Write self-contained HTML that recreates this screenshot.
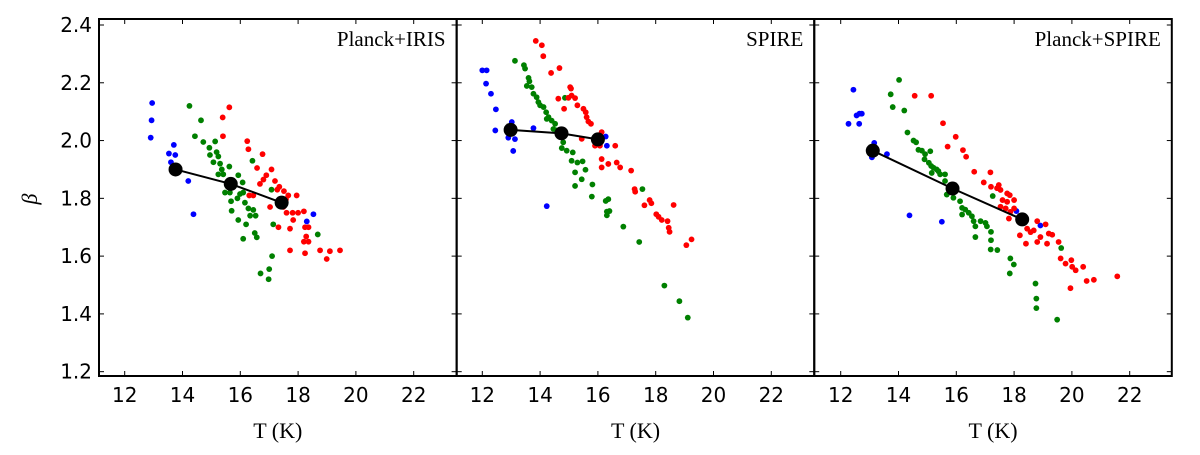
<!DOCTYPE html>
<html><head><meta charset="utf-8"><style>
html,body{margin:0;padding:0;background:#fff;width:1200px;height:455px;overflow:hidden}
svg text{font-family:"DejaVu Sans","Liberation Sans",sans-serif}
svg text.serif{font-family:"Liberation Serif","DejaVu Serif",serif}
</style></head><body>
<svg id="chart" width="1200" height="455" viewBox="0 0 1200 455" xmlns="http://www.w3.org/2000/svg"></svg>
<script>
const panelTitles=["Planck+IRIS","SPIRE","Planck+SPIRE"];
const xTicks=[12,14,16,18,20,22];
const yTicks=[1.2,1.4,1.6,1.8,2.0,2.2,2.4];
const yTickLabels=["1.2","1.4","1.6","1.8","2.0","2.2","2.4"];
const p1Blue=[[12.95,2.13],[12.93,2.07],[12.9,2.01],[13.7,1.985],[13.53,1.955],[13.75,1.95],[13.6,1.925],[14.2,1.86],[14.38,1.745],[18.3,1.72],[18.53,1.745]];
const p1Green=[[14.24,2.12],[14.64,2.07],[14.43,2.015],[14.72,1.995],[14.93,1.975],[15.13,1.997],[14.95,1.95],[15.18,1.96],[15.24,1.945],[15.07,1.925],[15.3,1.92],[15.36,1.9],[15.24,1.883],[15.41,1.883],[15.62,1.91],[15.93,1.88],[16.08,1.855],[15.76,1.84],[15.64,1.82],[15.47,1.82],[15.99,1.815],[16.1,1.82],[15.9,1.8],[15.68,1.79],[16.16,1.785],[16.28,1.765],[16.45,1.76],[15.7,1.757],[16.34,1.74],[16.53,1.74],[16.2,1.71],[15.93,1.725],[16.42,1.93],[17.08,1.83],[17.14,1.71],[16.5,1.68],[16.57,1.665],[16.1,1.66],[18.68,1.675],[17.1,1.6],[16.7,1.54],[17.0,1.555],[16.98,1.52]];
const p1Red=[[15.62,2.115],[15.39,2.08],[15.4,2.015],[16.24,1.998],[16.28,1.97],[16.77,1.953],[16.58,1.905],[17.08,1.9],[16.9,1.88],[16.8,1.865],[17.2,1.86],[16.68,1.85],[17.35,1.84],[17.28,1.83],[17.51,1.825],[17.66,1.81],[17.95,1.81],[16.45,1.81],[16.31,1.81],[17.03,1.77],[17.49,1.77],[17.6,1.75],[17.81,1.75],[18.0,1.75],[18.2,1.755],[17.83,1.725],[17.32,1.7],[17.72,1.695],[18.24,1.7],[18.36,1.7],[18.28,1.668],[18.2,1.65],[18.36,1.65],[17.72,1.62],[18.24,1.61],[18.76,1.62],[19.1,1.617],[19.45,1.62],[18.99,1.59],[17.58,1.797],[17.43,1.78]];
const p1Mean=[[13.76,1.9],[15.67,1.85],[17.43,1.785]];
const p2Blue=[[12.0,2.243],[12.15,2.243],[12.13,2.197],[12.3,2.162],[12.47,2.108],[12.45,2.035],[12.9,2.01],[13.13,2.005],[13.07,1.964],[13.02,2.064],[13.77,2.043],[14.23,1.773],[16.27,2.014],[16.31,1.982]];
const p2Green=[[13.13,2.276],[13.44,2.261],[13.48,2.249],[13.6,2.217],[13.63,2.205],[13.54,2.189],[13.71,2.185],[13.77,2.162],[13.88,2.15],[13.94,2.133],[14.0,2.122],[14.12,2.116],[14.21,2.098],[14.29,2.081],[14.23,2.075],[14.4,2.069],[14.52,2.058],[14.46,2.04],[14.57,2.035],[14.86,2.148],[14.8,1.994],[14.75,1.974],[14.92,1.965],[15.13,1.959],[15.09,1.93],[15.29,1.924],[15.47,1.928],[15.21,1.89],[15.57,1.899],[15.44,1.866],[15.21,1.843],[15.81,1.848],[15.79,1.806],[16.27,1.791],[16.36,1.797],[16.31,1.754],[16.4,1.756],[16.31,1.741],[16.88,1.702],[17.54,1.832],[17.43,1.649],[18.3,1.498],[18.82,1.444],[19.11,1.387]];
const p2Red=[[13.57,2.429],[13.85,2.345],[14.06,2.33],[14.11,2.292],[14.67,2.251],[14.38,2.234],[15.04,2.185],[15.07,2.18],[14.63,2.145],[14.98,2.148],[15.09,2.156],[15.21,2.147],[14.83,2.11],[15.29,2.122],[15.5,2.11],[15.58,2.098],[15.61,2.081],[15.67,2.066],[15.76,2.058],[16.13,2.029],[15.9,1.982],[16.07,1.982],[15.44,2.006],[16.6,1.982],[16.13,1.936],[16.36,1.919],[16.13,1.907],[16.65,1.924],[16.77,1.907],[17.15,1.896],[17.27,1.832],[17.29,1.823],[17.61,1.776],[17.79,1.794],[17.85,1.783],[18.02,1.745],[18.1,1.736],[18.21,1.725],[18.41,1.721],[18.45,1.698],[18.48,1.684],[18.62,1.777],[19.06,1.638],[19.24,1.658]];
const p2Mean=[[12.98,2.037],[14.74,2.025],[16.0,2.004]];
const p3Blue=[[12.44,2.176],[12.27,2.058],[12.55,2.087],[12.65,2.093],[12.73,2.093],[12.64,2.058],[13.16,1.992],[13.08,1.942],[13.6,1.953],[14.38,1.741],[15.5,1.719],[18.91,1.706],[18.08,1.756]];
const p3Green=[[14.02,2.21],[13.73,2.16],[13.8,2.116],[14.2,2.104],[14.31,2.028],[14.52,2.0],[14.61,1.994],[14.69,1.968],[14.81,1.965],[14.92,1.953],[15.1,1.963],[14.9,1.935],[15.05,1.923],[15.13,1.912],[15.21,1.906],[15.32,1.9],[15.15,1.888],[15.38,1.894],[15.44,1.883],[15.61,1.883],[15.61,1.86],[15.67,1.813],[15.9,1.802],[16.13,1.79],[16.2,1.767],[16.31,1.761],[16.2,1.744],[16.43,1.75],[16.54,1.738],[16.6,1.721],[16.66,1.703],[16.84,1.721],[17.01,1.715],[17.06,1.703],[16.66,1.666],[17.2,1.684],[17.2,1.655],[17.19,1.623],[17.42,1.621],[17.26,1.808],[17.87,1.592],[17.99,1.571],[17.85,1.54],[18.74,1.505],[18.77,1.453],[18.77,1.42],[19.49,1.38],[19.63,1.628]];
const p3Red=[[14.56,2.155],[15.13,2.155],[15.54,2.06],[15.98,2.013],[15.7,1.979],[16.23,1.967],[16.34,1.944],[16.62,1.892],[17.18,1.89],[16.95,1.855],[17.2,1.84],[17.47,1.846],[17.53,1.829],[17.41,1.835],[17.76,1.817],[17.85,1.811],[17.6,1.794],[17.76,1.788],[18.0,1.794],[17.53,1.771],[17.71,1.765],[17.87,1.753],[18.0,1.765],[17.82,1.73],[18.45,1.695],[18.68,1.689],[18.57,1.683],[18.8,1.721],[19.09,1.71],[18.2,1.672],[18.41,1.643],[18.8,1.649],[18.91,1.666],[19.2,1.678],[19.32,1.674],[19.14,1.643],[19.54,1.649],[19.61,1.592],[19.78,1.574],[19.98,1.586],[20.01,1.563],[20.13,1.551],[20.39,1.563],[20.51,1.514],[20.76,1.518],[21.57,1.53],[19.95,1.489]];
const p3Mean=[[13.11,1.965],[15.87,1.834],[18.28,1.727]];

const panels=[
 {blue:p1Blue,green:p1Green,red:p1Red,mean:p1Mean},
 {blue:p2Blue,green:p2Green,red:p2Red,mean:p2Mean},
 {blue:p3Blue,green:p3Green,red:p3Red,mean:p3Mean}
];
const NS="http://www.w3.org/2000/svg";
const svg=document.getElementById('chart');
function mk(tag,attrs,parent){const e=document.createElementNS(NS,tag);for(const k in attrs)e.setAttribute(k,attrs[k]);(parent||svg).appendChild(e);return e;}
const top0=19,bot0=376,pw=357.6;
const lefts=[99,456.7,814.2];
const x12=[124.7,482.3,840.7];
const xs=28.9, ys=288.9, y24=25;
function yPos(v){return y24+(2.4-v)*ys;}
const serifStyle='font-family:"Liberation Serif","DejaVu Serif",serif';

panels.forEach((p,i)=>{
  const L=lefts[i],R=L+pw;
  const xPos=v=>x12[i]+(v-12)*xs;
  const g=mk('g',{});
  
  
  const clipId='clip'+i;
  const cp=mk('clipPath',{id:clipId},g);
  mk('rect',{x:L,y:top0,width:pw,height:bot0-top0},cp);
  const pts=mk('g',{'clip-path':'url(#'+clipId+')'},g);
  [['blue','#0000ff'],['green','#008000'],['red','#ff0000']].forEach(([k,c])=>{
    p[k].forEach(d=>{
      const e=mk('circle',{cx:xPos(d[0]),cy:yPos(d[1]),r:2.9,fill:c},pts);
      
      
    });
  });
  const line=mk('polyline',{points:p.mean.map(d=>xPos(d[0])+','+yPos(d[1])).join(' '),fill:'none',stroke:'#000','stroke-width':2},pts);
  
  
  p.mean.forEach(d=>{
    const e=mk('circle',{cx:xPos(d[0]),cy:yPos(d[1]),r:7,fill:'#000'},pts);
    
    
  });
  xTicks.forEach(t=>{
    const x=xPos(t);
    mk('line',{x1:x,x2:x,y1:bot0,y2:bot0-5,stroke:'#000','stroke-width':1},g);
    mk('line',{x1:x,x2:x,y1:top0,y2:top0+5,stroke:'#000','stroke-width':1},g);
    const tx=mk('text',{x:x,y:402,'font-size':20,'text-anchor':'middle'},g);
    tx.textContent=t;
    
    
  });
  yTicks.forEach((t,j)=>{
    const y=yPos(t);
    mk('line',{x1:L,x2:L+5,y1:y,y2:y,stroke:'#000','stroke-width':1},g);
    mk('line',{x1:R,x2:R-5,y1:y,y2:y,stroke:'#000','stroke-width':1},g);
    if(i===0){
      const tx=mk('text',{x:92,y:y+7,'font-size':20,'text-anchor':'end'},g);
      tx.textContent=yTickLabels[j];
      
      
    }
  });
  mk('rect',{x:L,y:top0,width:pw,height:bot0-top0,fill:'none',stroke:'#000','stroke-width':2},g);
  const tt=mk('text',{x:R-11,y:46,'font-size':21,'text-anchor':'end',style:serifStyle},g);
  tt.textContent=panelTitles[i];
  
  
  const xl=mk('text',{x:(L+R)/2,y:438,'font-size':22,'text-anchor':'middle',style:serifStyle},g);
  xl.textContent='T (K)';
  
  
});
const yl=mk('text',{x:0,y:0,'font-size':22,'font-style':'italic','text-anchor':'middle',style:serifStyle,transform:'translate(37,199) rotate(-90)'});
yl.textContent='β';


</script>
</body></html>
